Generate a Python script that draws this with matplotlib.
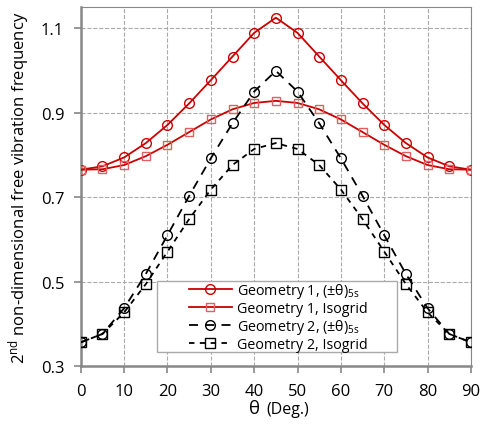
import matplotlib.pyplot as plt
import matplotlib
from matplotlib.patches import Rectangle

matplotlib.rcParams['font.family'] = ['Open Sans', 'DejaVu Sans']
matplotlib.rcParams['mathtext.fontset'] = 'custom'
matplotlib.rcParams['mathtext.rm'] = 'Open Sans'
matplotlib.rcParams['mathtext.it'] = 'Open Sans'

theta = [0, 5, 10, 15, 20, 25, 30, 35, 40, 45, 50, 55, 60, 65, 70, 75, 80, 85, 90]

g1_angle = [0.765, 0.773, 0.794, 0.828, 0.871, 0.922, 0.977, 1.033, 1.089, 1.125,
            1.089, 1.033, 0.977, 0.922, 0.871, 0.828, 0.794, 0.773, 0.765]
g1_iso = [0.765, 0.766, 0.776, 0.797, 0.824, 0.854, 0.884, 0.908, 0.923, 0.928,
          0.923, 0.908, 0.884, 0.854, 0.824, 0.797, 0.776, 0.766, 0.765]
g2_angle = [0.356, 0.376, 0.437, 0.518, 0.610, 0.703, 0.792, 0.875, 0.950, 0.999,
            0.950, 0.875, 0.792, 0.703, 0.610, 0.518, 0.437, 0.376, 0.356]
g2_iso = [0.356, 0.376, 0.427, 0.494, 0.571, 0.648, 0.718, 0.776, 0.814, 0.828,
          0.814, 0.776, 0.718, 0.648, 0.571, 0.494, 0.427, 0.376, 0.356]

fig = plt.figure(figsize=(4.81, 4.27), dpi=100)
ax = fig.add_axes([0.168, 0.1405, 0.811, 0.8405])

red = '#cc0000'
ax.plot(theta, g1_angle, '-', color=red, lw=1.3, marker='o', ms=7, mfc='none',
        mec=red, mew=1.0, label=r'Geometry 1, (±θ)$_{\mathrm{5s}}$', zorder=4)
ax.plot(theta, g1_iso, '-', color=red, lw=1.3, marker='s', ms=5.5, mfc='none',
        mec='#e06060', mew=1.0, label='Geometry 1, Isogrid', zorder=4)
ax.plot(theta, g2_angle, '--', color='black', lw=1.3, dashes=(5, 4), marker='o', ms=7,
        mfc='none', mec='black', mew=1.0, label=r'Geometry 2, (±θ)$_{\mathrm{5s}}$', zorder=4)
ax.plot(theta, g2_iso, '--', color='black', lw=1.3, dashes=(3, 3), marker='s', ms=6.5,
        mfc='none', mec='black', mew=1.0, label='Geometry 2, Isogrid', zorder=4)

ax.set_xlim(0, 90)
ax.set_ylim(0.3, 1.15)
ax.set_xticks(range(0, 91, 10))
ax.set_yticks([0.3, 0.5, 0.7, 0.9, 1.1])
ax.tick_params(labelsize=12, color='#888888', length=5, width=1.2)
ax.tick_params(axis='x', pad=7)
ax.tick_params(axis='y', pad=7)
ax.grid(True, color='#aaaaaa', linestyle='--', linewidth=0.8)
for s in ax.spines.values():
    s.set_color('#888888')
ax.spines['left'].set_linewidth(1.8)
ax.spines['bottom'].set_linewidth(1.8)

# x axis title: big theta plus smaller unit text
fig.text(0.518, 0.031, 'θ', fontsize=13.5, ha='left', va='baseline')
fig.text(0.553, 0.031, '(Deg.)', fontsize=11.5, ha='left', va='baseline')
ax.set_ylabel(r'2$^{\mathrm{nd}}$ non-dimensional free vibration frequency', fontsize=12, labelpad=6)

# legend box drawn separately (reference has wide side padding)
ax.add_patch(Rectangle((0.195, 0.039), 0.615, 0.198, transform=ax.transAxes,
                       facecolor='white', edgecolor='#aaaaaa', lw=1.0, zorder=5))
leg = ax.legend(loc='center left', bbox_to_anchor=(0.273, 0.138), frameon=False,
                borderaxespad=0, fontsize=10.3, borderpad=0.1, labelspacing=0.05,
                handlelength=3.0, handletextpad=0.4)
leg.set_zorder(6)

plt.savefig('out.png', dpi=100)
